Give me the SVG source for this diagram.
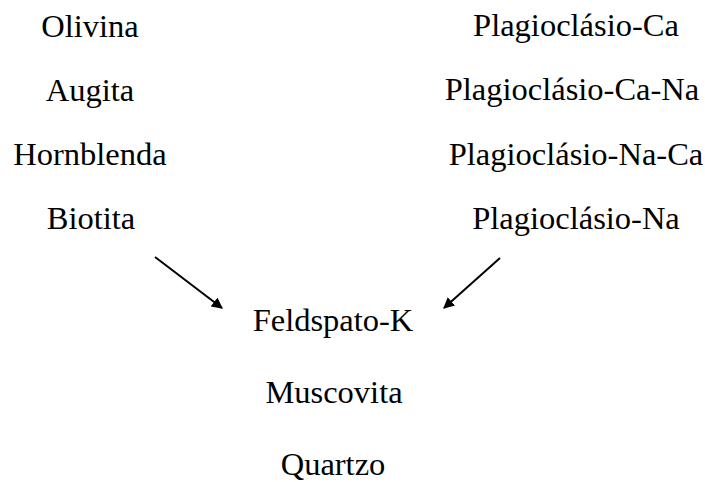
<svg xmlns="http://www.w3.org/2000/svg" width="705" height="482" viewBox="0 0 705 482">
<style>
text{font-family:"Liberation Serif","Times New Roman",serif;font-size:32.5px;fill:#000;text-anchor:middle}
.c{stroke:#000;stroke-width:2;fill:none}
</style>
<defs>
<marker id="ah" viewBox="0 0 10 10" refX="9" refY="5" markerWidth="5.5" markerHeight="5.5" orient="auto" markerUnits="strokeWidth">
<path d="M0,0 L10,5 L0,10 z" fill="#000"/>
</marker>
</defs>
<rect width="705" height="482" fill="#fff"/>
<g id="olivina"><text x="90" y="37">Olivina</text></g>
<g id="augita"><text x="90" y="101">Augita</text></g>
<g id="hornblenda"><text x="90" y="165">Hornblenda</text></g>
<g id="biotita"><text x="91" y="229">Biotita</text></g>
<g id="plag-ca"><text x="576" y="36">Plagioclásio-Ca</text></g>
<g id="plag-ca-na"><text x="572" y="100">Plagioclásio-Ca-Na</text></g>
<g id="plag-na-ca"><text x="576" y="165">Plagioclásio-Na-Ca</text></g>
<g id="plag-na"><text x="576" y="229">Plagioclásio-Na</text></g>
<g id="feldspato-k"><text x="333" y="331">Feldspato-K</text></g>
<g id="muscovita"><text x="334" y="403">Muscovita</text></g>
<g id="quartzo"><text x="333" y="475">Quartzo</text></g>
<g id="connectors">
<line class="c" x1="155" y1="257" x2="222" y2="308" marker-end="url(#ah)"/>
<line class="c" x1="500" y1="258" x2="444" y2="308" marker-end="url(#ah)"/>
</g>
</svg>
